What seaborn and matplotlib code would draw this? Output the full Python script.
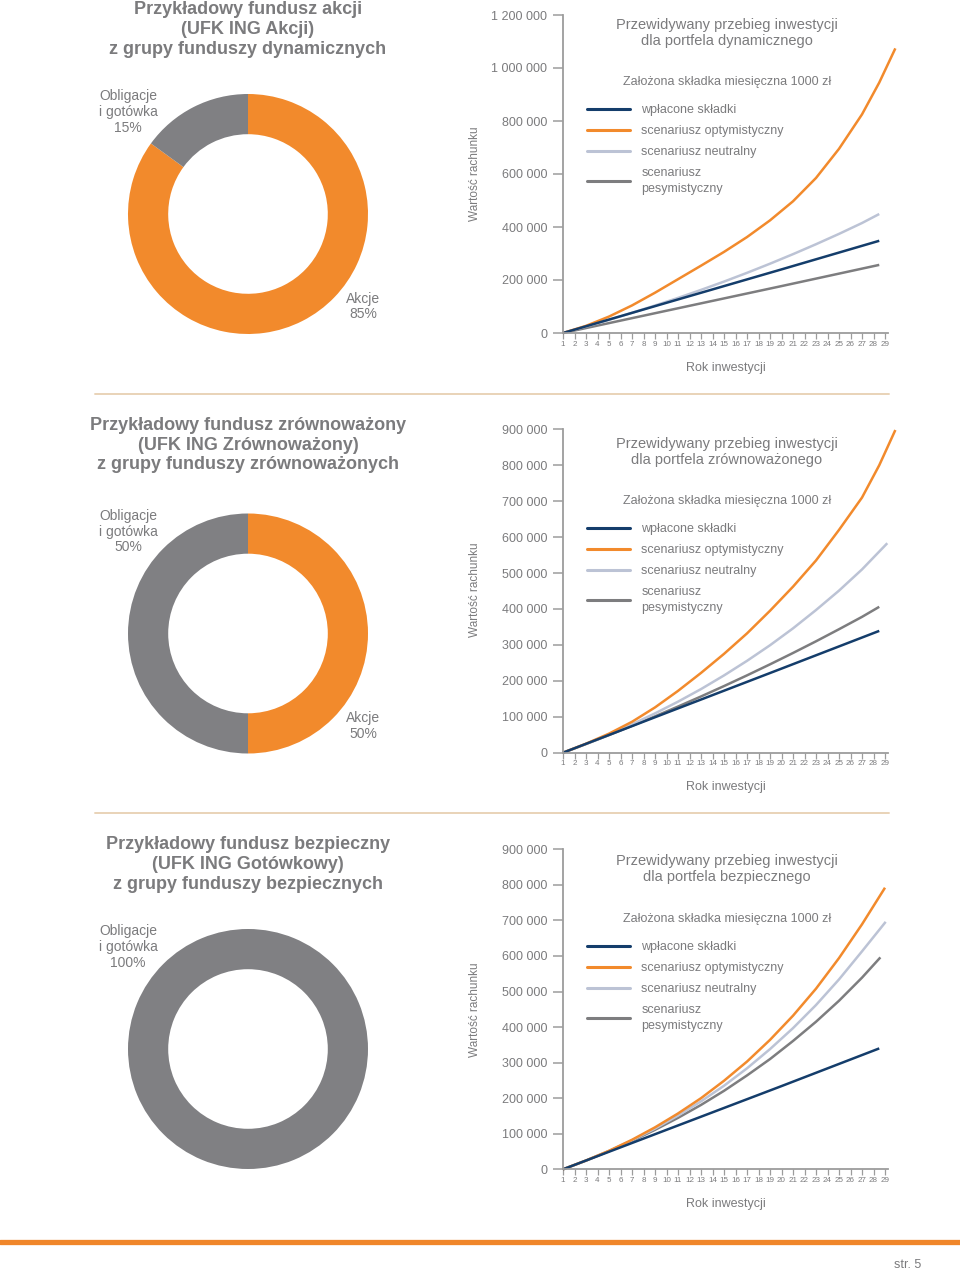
import matplotlib
matplotlib.use("Agg")
import matplotlib.pyplot as plt
from matplotlib.lines import Line2D
from matplotlib.ticker import FuncFormatter
import pandas as pd
import seaborn as sns

# kolory
POMARANCZ = "#f28a2c"
SZARY_DONUT = "#808083"
GRANAT = "#143d6b"
NEUTRAL = "#bcc3d5"
PESYM = "#7d7d7f"
TEKST = "#7b7b7d"
OS = "#9c9c9c"

# ---- dane: struktura funduszy ----
tytuly_funduszy = [
    "Przykładowy fundusz akcji\n(UFK ING Akcji)\nz grupy funduszy dynamicznych",
    "Przykładowy fundusz zrównoważony\n(UFK ING Zrównoważony)\nz grupy funduszy zrównoważonych",
    "Przykładowy fundusz bezpieczny\n(UFK ING Gotówkowy)\nz grupy funduszy bezpiecznych",
]
udzial_akcje = [85, 50, 0]
udzial_obligacje = [15, 50, 100]

# ---- dane: wykresy liniowe ----
portfele = ["dynamicznego", "zrównoważonego", "bezpiecznego"]
y_max = [1200000, 900000, 900000]
y_krok = [200000, 100000, 100000]
lata_osi = list(range(1, 30))

lata_wplaty = [1, 10, 20, 28.5]
lata_co2 = [1, 3, 5, 7, 9, 11, 13, 15, 17, 19, 21, 23, 25, 27]

# portfel dynamiczny
dyn_wplacone = [0, 114000, 240000, 348000]
dyn_lata_opt = lata_co2 + [28.5, 29.9]
dyn_opt = [0, 27000, 62000, 104000, 152000, 203000, 254000, 306000, 362000,
           425000, 497000, 585000, 695000, 825000, 945000, 1074000]
dyn_lata_neu = lata_co2 + [28.5]
dyn_neu = [0, 24300, 49600, 76100, 103700, 132400, 162600, 194000, 227000,
           261500, 297500, 335000, 374000, 415000, 449000]
dyn_lata_pes = lata_wplaty
dyn_pes = [0, 84000, 177000, 257000]

# portfel zrównoważony
zr_wplacone = [0, 111000, 234000, 339000]
zr_lata_opt = lata_co2 + [28.5, 29.9]
zr_opt = [0, 25000, 53000, 86000, 126000, 172000, 222000, 275000, 332000,
          395000, 462000, 535000, 620000, 710000, 800000, 898000]
zr_lata_neu = lata_co2 + [29.2]
zr_neu = [0, 24500, 50700, 78900, 109400, 142000, 177000, 215000, 255600,
          299000, 346000, 397000, 451000, 510000, 583000]
zr_lata_pes = lata_co2 + [28.5]
zr_pes = [0, 24200, 49100, 74700, 101200, 128400, 156500, 185400, 215200,
          245900, 277500, 310000, 343600, 378000, 406000]

# portfel bezpieczny
bz_wplacone = [0, 111000, 234000, 340000]
bz_lata_opt = lata_co2 + [29.0]
bz_opt = [0, 24700, 52000, 83000, 118000, 157000, 200000, 249000, 303000,
          364000, 432000, 508000, 594000, 689000, 792000]
bz_lata_neu = lata_co2 + [29.06]
bz_neu = [0, 24600, 51700, 81600, 114600, 151000, 191000, 235000, 284000,
          338000, 397000, 462000, 534000, 613000, 696000]
bz_lata_pes = lata_co2 + [28.6]
bz_pes = [0, 24500, 51100, 79800, 111000, 144700, 181000, 220700, 264000,
          310000, 360900, 415000, 474000, 539000, 596000]

serie = ["wpłacone składki", "scenariusz optymistyczny",
         "scenariusz neutralny", "scenariusz\npesymistyczny"]
paleta = dict(zip(serie, [GRANAT, POMARANCZ, NEUTRAL, PESYM]))

dane_wykresow = [
    [(lata_wplaty, dyn_wplacone), (dyn_lata_opt, dyn_opt), (dyn_lata_neu, dyn_neu), (dyn_lata_pes, dyn_pes)],
    [(lata_wplaty, zr_wplacone), (zr_lata_opt, zr_opt), (zr_lata_neu, zr_neu), (zr_lata_pes, zr_pes)],
    [(lata_wplaty, bz_wplacone), (bz_lata_opt, bz_opt), (bz_lata_neu, bz_neu), (bz_lata_pes, bz_pes)],
]

sns.set_theme(style="white")
plt.rcParams["font.family"] = ["Liberation Sans", "DejaVu Sans"]

W, H = 960, 1274
fig = plt.figure(figsize=(W / 100, H / 100), dpi=100)


def px_axes(left, top, right, bottom):
    return fig.add_axes([left / W, 1 - bottom / H, (right - left) / W, (bottom - top) / H])


def fy(y):
    return 1 - y / H


# pozycje paneli (px): y osi zera, y gornego ticka, srodek donuta, tytuly
os_dol = [333, 752.7, 1169.3]
os_gora = [15, 429.3, 849.3]
donut_srodek = [214, 633.5, 1049]
tytul_fund_y = [29.5, 445, 864.5]
tytul_wyk_y = [33, 452, 869]
skladka_y = [82, 501, 919]
legenda_y = [104, 523, 941]
opis_y_y = [174, 590, 1010]
opis_x_y = [368, 787, 1204]

fmt = FuncFormatter(lambda v, p: f"{int(v):,}".replace(",", " "))

for i in range(3):
    # ---- donut ----
    c = donut_srodek[i]
    axd = px_axes(128, c - 120, 368, c + 120)
    axd.pie([udzial_akcje[i], udzial_obligacje[i]], colors=[POMARANCZ, SZARY_DONUT],
            startangle=90, counterclock=False,
            wedgeprops=dict(width=0.335, edgecolor="none"))
    axd.set_xlim(-1, 1)
    axd.set_ylim(-1, 1)
    axd.text(-1.0, 0.85, f"Obligacje\ni gotówka\n{udzial_obligacje[i]}%", ha="center", va="center",
             fontsize=10, color=TEKST, linespacing=1.15, clip_on=False)
    if udzial_akcje[i] > 0:
        axd.text(0.96, -0.77, f"Akcje\n{udzial_akcje[i]}%", ha="center", va="center",
                 fontsize=10, color=TEKST, linespacing=1.15, clip_on=False)
    fig.text(248 / W, fy(tytul_fund_y[i]), tytuly_funduszy[i], ha="center", va="center",
             fontsize=13, fontweight="bold", color=TEKST, linespacing=1.2)

    # ---- wykres liniowy ----
    ax = px_axes(563, os_gora[i], 888, os_dol[i])
    wiersze = []
    for nazwa, (lata, wartosci) in zip(serie, dane_wykresow[i]):
        wiersze.append(pd.DataFrame({"Rok": lata, "Wartość": wartosci, "Seria": nazwa}))
    df = pd.concat(wiersze, ignore_index=True)
    sns.lineplot(data=df, x="Rok", y="Wartość", hue="Seria", hue_order=serie[::-1],
                 palette=paleta, estimator=None, sort=False, linewidth=1.8,
                 legend=False, ax=ax)
    for ln in ax.lines:
        ln.set_clip_on(False)
        ln.set_solid_capstyle("butt")

    ax.set_xlim(1, 1 + (888 - 563) / 11.5)
    ax.set_ylim(0, y_max[i])
    ax.set_xticks(lata_osi)
    ax.set_yticks(range(0, y_max[i] + 1, y_krok[i]))
    ax.yaxis.set_major_formatter(fmt)
    ax.set_xlabel("")
    ax.set_ylabel("")
    sns.despine(ax=ax)
    for s in ["left", "bottom"]:
        ax.spines[s].set_color(OS)
        ax.spines[s].set_linewidth(1.3)
    ax.tick_params(axis="y", direction="out", length=7, width=1.1, color=OS,
                   labelsize=9, labelcolor=TEKST, pad=4.5, left=True)
    ax.tick_params(axis="x", direction="out", length=4, width=0.9, color=OS,
                   labelsize=5.8, labelcolor=TEKST, pad=1.5, bottom=True)
    ax.patch.set_alpha(0)

    fig.text(727 / W, fy(tytul_wyk_y[i]), f"Przewidywany przebieg inwestycji\ndla portfela {portfele[i]}",
             ha="center", va="center", fontsize=10.5, color=TEKST, linespacing=1.25)
    fig.text(727 / W, fy(skladka_y[i]), "Założona składka miesięczna 1000 zł",
             ha="center", va="center", fontsize=9, color=TEKST)
    uchwyty = [Line2D([0], [0], color=paleta[s], lw=2.2) for s in serie]
    leg = ax.legend(uchwyty, serie, loc="upper left", bbox_to_anchor=(587 / W, fy(legenda_y[i])),
                    bbox_transform=fig.transFigure, frameon=False, fontsize=9,
                    handlelength=3.45, handletextpad=0.9, labelspacing=0.72,
                    borderpad=0, borderaxespad=0)
    for t in leg.get_texts():
        t.set_color(TEKST)
        t.set_linespacing(1.4)
    fig.text(475 / W, fy(opis_y_y[i]), "Wartość rachunku", rotation=90, ha="center", va="center",
             fontsize=8.5, color=TEKST)
    fig.text(726 / W, fy(opis_x_y[i]), "Rok inwestycji", ha="center", va="center",
             fontsize=9, color=TEKST)

# linie oddzielajace i stopka
for y in [394, 812.5]:
    fig.add_artist(Line2D([95 / W, 889 / W], [fy(y), fy(y)], color="#e9d3b8", lw=1.4))
fig.add_artist(Line2D([0, 1], [fy(1242), fy(1242)], color="#f0862a", lw=3.8))
fig.text(908 / W, fy(1265), "str. 5", ha="center", va="center", fontsize=9, color=TEKST)

fig.savefig("out.png", dpi=100)
